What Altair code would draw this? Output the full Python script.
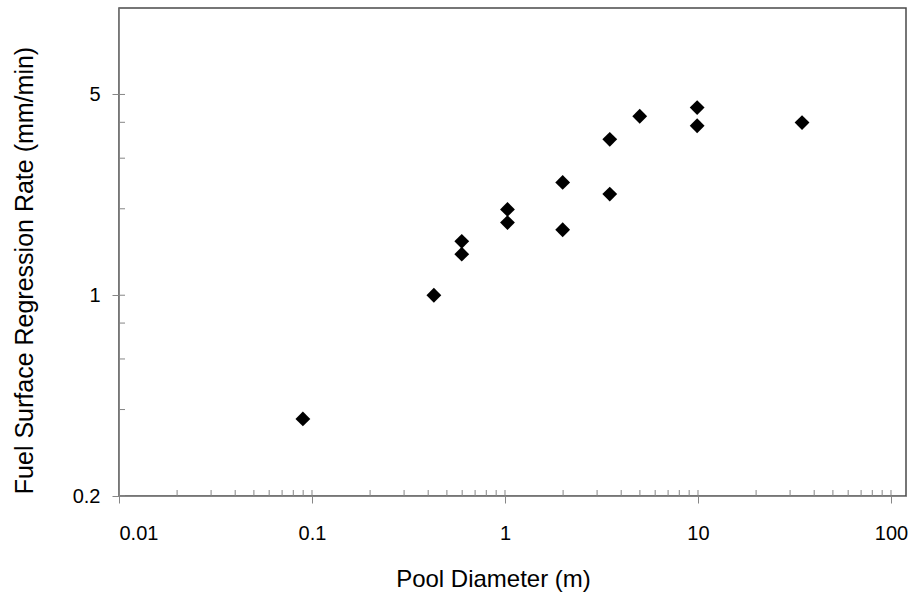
import altair as alt
import pandas as pd

# Data
diameter = [0.0897, 0.428, 0.597, 0.597, 1.03, 1.03, 1.99, 1.99, 3.49, 3.49, 4.99, 9.9, 9.9, 34.6]
rate = [0.371, 1.0, 1.54, 1.39, 1.99, 1.79, 2.47, 1.69, 3.49, 2.25, 4.20, 4.50, 3.89, 3.99]

x_major = [0.01, 0.1, 1, 10, 100]
x_minor = [0.02, 0.03, 0.04, 0.05, 0.06, 0.07, 0.08, 0.09,
           0.2, 0.3, 0.4, 0.5, 0.6, 0.7, 0.8, 0.9,
           2, 3, 4, 5, 6, 7, 8, 9,
           20, 30, 40, 50, 60, 70, 80, 90]
y_major = [0.2, 1, 5]
y_minor = [0.4, 0.6, 0.8, 2, 3, 4]

W, H = 787, 488
AXIS_GRAY = "#868686"

xscale = alt.Scale(type="log", domain=[0.01, 119.6], nice=False)
yscale = alt.Scale(type="log", domain=[0.2, 10], nice=False)

xaxis = alt.Axis(
    values=x_major, format="~g", title="Pool Diameter (m)",
    grid=False, domainColor=AXIS_GRAY, tickColor=AXIS_GRAY, tickSize=7,
    labelFontSize=20, labelColor="black", labelPadding=20, labelFont="Liberation Sans",
    titleFontSize=24, titleFont="Liberation Sans", titleFontWeight="normal",
    titleColor="black", titleX=374, titleY=90, titleBaseline="alphabetic",
    titleAlign="center")
yaxis = alt.Axis(
    values=y_major, format="~g", title="Fuel Surface Regression Rate (mm/min)",
    grid=False, domainColor=AXIS_GRAY, tickColor=AXIS_GRAY, tickSize=7,
    labelFontSize=20, labelColor="black", labelPadding=12, labelFont="Liberation Sans",
    titleFontSize=25, titleFont="Liberation Sans", titleFontWeight="normal",
    titleColor="black", titleX=-87, titleY=262, titleBaseline="alphabetic",
    titleAlign="center", titleAngle=270)

rows = (
    [{"d": d, "r": r, "kind": "pt"} for d, r in zip(diameter, rate)]
    + [{"d": v, "r": None, "kind": "xt"} for v in x_major + x_minor]
    + [{"d": None, "r": v, "kind": "yt"} for v in y_major + y_minor]
)
df = pd.DataFrame(rows)

base = alt.Chart(df)

points = base.transform_filter(alt.datum.kind == "pt").mark_point(
    shape="diamond", filled=True, color="black", size=220, opacity=1
).encode(
    x=alt.X("d:Q", scale=xscale, axis=xaxis),
    y=alt.Y("r:Q", scale=yscale, axis=yaxis),
)

x_inner = base.transform_filter(alt.datum.kind == "xt").mark_rule(
    color=AXIS_GRAY, strokeWidth=1
).encode(
    x=alt.X("d:Q", scale=xscale, axis=xaxis),
    y=alt.value(H), y2=alt.value(H - 6),
)
y_inner = base.transform_filter(alt.datum.kind == "yt").mark_rule(
    color=AXIS_GRAY, strokeWidth=1
).encode(
    y=alt.Y("r:Q", scale=yscale, axis=yaxis),
    x=alt.value(0), x2=alt.value(6),
)

chart = alt.layer(points, x_inner, y_inner).properties(
    width=W, height=H,
    autosize=alt.AutoSizeParams(type="none"),
    padding={"left": 119, "top": 8, "right": 7, "bottom": 96},
    background="white",
).configure_view(stroke="#4a4a4a", strokeWidth=1.5)

chart.save("out.html", embed_options={"renderer": "svg", "actions": False})
